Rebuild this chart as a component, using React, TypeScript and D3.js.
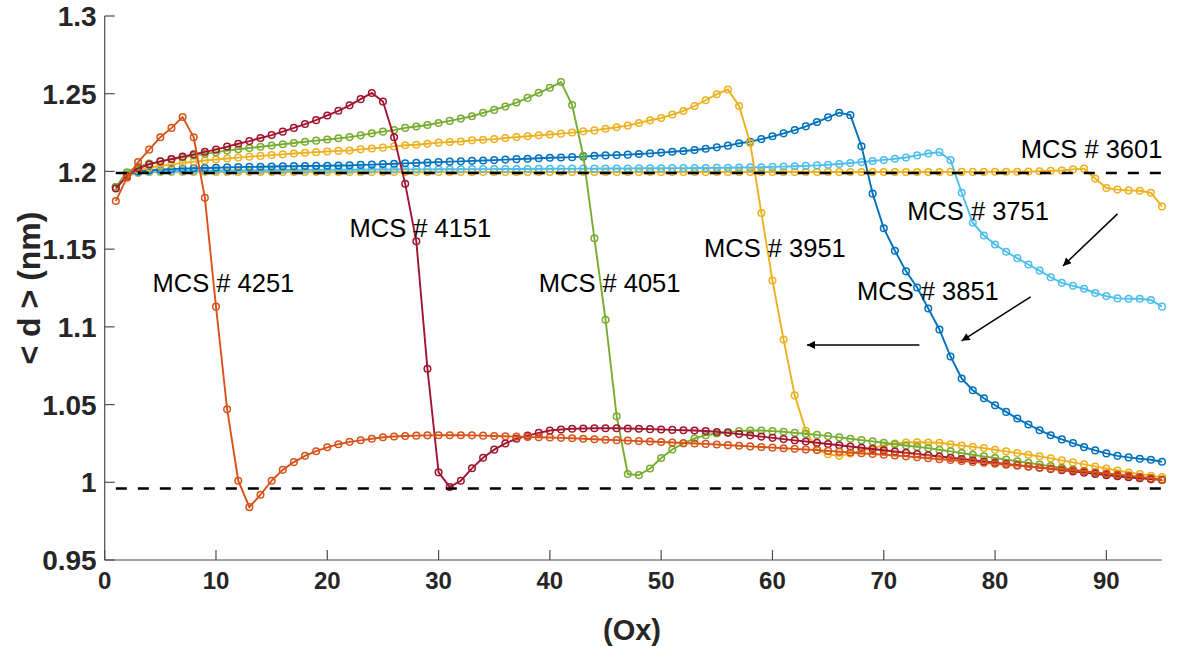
import React from "react";
import * as d3 from "d3";

const W = 1177;
const H = 647;

const xValues: number[] = d3.range(1, 96);

const mcs3601: number[] = [
  1.19, 1.197, 1.199, 1.1995, 1.1996, 1.1996, 1.1996, 1.1996, 1.1996, 1.1996,
  1.1996, 1.1996, 1.1996, 1.1996, 1.1996, 1.1996, 1.1996, 1.1996, 1.1996, 1.1996,
  1.1996, 1.1996, 1.1996, 1.1996, 1.1996, 1.1996, 1.1996, 1.1996, 1.1996, 1.1996,
  1.1996, 1.1996, 1.1996, 1.1996, 1.1996, 1.1996, 1.1996, 1.1996, 1.1996, 1.1996,
  1.1996, 1.1996, 1.1996, 1.1996, 1.1996, 1.1996, 1.1996, 1.1996, 1.1996, 1.1996,
  1.1996, 1.1996, 1.1996, 1.1996, 1.1996, 1.1996, 1.1996, 1.1996, 1.1996, 1.1996,
  1.1996, 1.1996, 1.1996, 1.1996, 1.1996, 1.1996, 1.1996, 1.1996, 1.1996, 1.1996,
  1.1996, 1.1996, 1.1996, 1.1996, 1.1996, 1.1997, 1.1997, 1.1997, 1.1997, 1.1998,
  1.1998, 1.1998, 1.1999, 1.2001, 1.2004, 1.2006, 1.2013, 1.2018, 1.1954, 1.1893,
  1.1883, 1.1878, 1.1876, 1.1863, 1.1775,
];

const mcs3751: number[] = [
  1.19, 1.198, 1.1995, 1.2, 1.2002, 1.2003, 1.2004, 1.2005, 1.2005, 1.2006,
  1.2006, 1.2007, 1.2007, 1.2008, 1.2008, 1.2009, 1.2009, 1.201, 1.201, 1.201,
  1.2011, 1.2011, 1.2011, 1.2012, 1.2012, 1.2012, 1.2013, 1.2013, 1.2013, 1.2014,
  1.2014, 1.2014, 1.2015, 1.2015, 1.2015, 1.2016, 1.2016, 1.2016, 1.2017, 1.2017,
  1.2017, 1.2018, 1.2018, 1.2018, 1.2019, 1.2019, 1.2019, 1.202, 1.202, 1.202,
  1.2021, 1.2021, 1.2022, 1.2022, 1.2023, 1.2024, 1.2025, 1.2026, 1.2027, 1.2029,
  1.2031, 1.2033, 1.2036, 1.2039, 1.2043, 1.2048, 1.2054, 1.206, 1.2067, 1.2074,
  1.2082, 1.209, 1.2103, 1.2115, 1.2124, 1.2073, 1.1863, 1.167, 1.1588, 1.153,
  1.1483, 1.1442, 1.1401, 1.1362, 1.1319, 1.1283, 1.1264, 1.1245, 1.1218, 1.1198,
  1.1183, 1.1181, 1.1181, 1.1173, 1.113,
];

const mcs3851: number[] = [
  1.19, 1.198, 1.2, 1.2008, 1.2012, 1.2015, 1.2018, 1.202, 1.2022, 1.2024,
  1.2026, 1.2028, 1.2029, 1.203, 1.2032, 1.2033, 1.2034, 1.2035, 1.2036, 1.2037,
  1.2038, 1.2039, 1.2042, 1.2044, 1.2047, 1.2049, 1.2052, 1.2055, 1.2057, 1.206,
  1.2063, 1.2065, 1.2068, 1.207, 1.2073, 1.2076, 1.2079, 1.2082, 1.2085, 1.2088,
  1.209, 1.2092, 1.2095, 1.2101, 1.2103, 1.2105, 1.2108, 1.2112, 1.2116, 1.2121,
  1.2127, 1.2131, 1.2138, 1.2146, 1.2155, 1.2166, 1.2181, 1.2191, 1.2208, 1.2226,
  1.2245, 1.2266, 1.229, 1.2318, 1.2348, 1.2378, 1.2362, 1.2162, 1.1857, 1.1634,
  1.149, 1.1357, 1.1253, 1.1118, 1.0983, 1.0809, 1.0668, 1.0592, 1.0541, 1.0496,
  1.0453, 1.041, 1.0372, 1.0335, 1.0303, 1.0276, 1.0252, 1.0226, 1.0205, 1.0186,
  1.017, 1.016, 1.0151, 1.0145, 1.0132,
];

const mcs3951: number[] = [
  1.19, 1.198, 1.201, 1.2025, 1.2035, 1.2045, 1.2055, 1.2063, 1.207, 1.2077,
  1.2083, 1.2089, 1.2095, 1.21, 1.2105, 1.211, 1.2115, 1.212, 1.2124, 1.2128,
  1.2132, 1.2135, 1.2142, 1.2148, 1.2153, 1.2161, 1.2168, 1.2172, 1.2178, 1.2185,
  1.2189, 1.2193, 1.22, 1.2204, 1.2208, 1.2215, 1.2221, 1.2226, 1.2232, 1.2238,
  1.2243, 1.225, 1.2258, 1.2264, 1.2275, 1.2284, 1.2295, 1.2312, 1.2329, 1.2344,
  1.2366, 1.2389, 1.2421, 1.2458, 1.2497, 1.2527, 1.2421, 1.2183, 1.1733, 1.1298,
  1.0918, 1.0559, 1.0331, 1.021, 1.018, 1.017, 1.0185, 1.0203, 1.022, 1.0237,
  1.025, 1.0256, 1.0258, 1.0256, 1.0254, 1.0245, 1.0237, 1.0228, 1.022, 1.0209,
  1.0199, 1.0188, 1.0177, 1.0167, 1.0154, 1.0141, 1.0128, 1.0115, 1.0102, 1.0089,
  1.0076, 1.0063, 1.0053, 1.0042, 1.0033,
];

const mcs4051: number[] = [
  1.19, 1.1995, 1.203, 1.205, 1.2065, 1.2078, 1.209, 1.2102, 1.2113, 1.2124,
  1.2134, 1.2143, 1.2151, 1.2159, 1.2167, 1.2175, 1.2183, 1.2191, 1.2198, 1.2205,
  1.2213, 1.2221, 1.2232, 1.2245, 1.2256, 1.2266, 1.228, 1.2289, 1.2299, 1.2312,
  1.2325, 1.234, 1.2355, 1.2377, 1.2396, 1.2418, 1.2443, 1.2473, 1.2506, 1.2538,
  1.2575, 1.2427, 1.2101, 1.157, 1.1046, 1.0425, 1.0053, 1.0046, 1.0089, 1.0156,
  1.0211, 1.025, 1.0282, 1.0303, 1.0314, 1.0323, 1.0329, 1.0333, 1.0333, 1.0329,
  1.0325, 1.0318, 1.0312, 1.0305, 1.0297, 1.0289, 1.028, 1.0271, 1.0263, 1.0254,
  1.0245, 1.0237, 1.0228, 1.022, 1.0209, 1.0199, 1.0188, 1.0177, 1.0167, 1.0156,
  1.0146, 1.0135, 1.0125, 1.0114, 1.0104, 1.0093, 1.0082, 1.0072, 1.0061, 1.0053,
  1.0044, 1.0035, 1.0029, 1.0024, 1.002,
];

const mcs4151: number[] = [
  1.189, 1.197, 1.202, 1.2045, 1.2065, 1.208, 1.2095, 1.211, 1.2126, 1.214,
  1.216, 1.2178, 1.2195, 1.2215, 1.2234, 1.2256, 1.228, 1.2305, 1.233, 1.236,
  1.239, 1.2425, 1.2465, 1.2505, 1.245, 1.222, 1.192, 1.155, 1.073, 1.0064,
  0.997, 1.001, 1.009, 1.0158, 1.021, 1.025, 1.028, 1.03, 1.0318, 1.0333,
  1.034, 1.0344, 1.0346, 1.0348, 1.0348, 1.0348, 1.0346, 1.0344, 1.0342, 1.034,
  1.0337, 1.0335, 1.0333, 1.033, 1.0324, 1.0318, 1.031, 1.0302, 1.0294, 1.0286,
  1.0278, 1.027, 1.0262, 1.0254, 1.0246, 1.0238, 1.023, 1.0222, 1.0214, 1.0206,
  1.0198, 1.019, 1.0182, 1.0174, 1.0166, 1.0158, 1.015, 1.0142, 1.0134, 1.0126,
  1.0118, 1.011, 1.0102, 1.0094, 1.0086, 1.0078, 1.007, 1.0062, 1.0054, 1.0046,
  1.0039, 1.0032, 1.0026, 1.002, 1.0015,
];

const mcs4251: number[] = [
  1.181, 1.196, 1.206, 1.214, 1.222, 1.228, 1.235, 1.222, 1.183, 1.113,
  1.047, 1.001, 0.984, 0.992, 1.001, 1.008, 1.013, 1.017, 1.02, 1.0225,
  1.0245, 1.026, 1.027, 1.028, 1.029, 1.0295, 1.0298, 1.03, 1.0302, 1.0303,
  1.0303, 1.0303, 1.0302, 1.03, 1.0298, 1.0296, 1.0294, 1.0292, 1.029, 1.0288,
  1.0286, 1.0283, 1.028, 1.0277, 1.0274, 1.0271, 1.0268, 1.0265, 1.0262, 1.0259,
  1.0256, 1.0253, 1.025, 1.0247, 1.0243, 1.0239, 1.0235, 1.0231, 1.0227, 1.0223,
  1.0219, 1.0215, 1.0211, 1.0207, 1.0202, 1.0197, 1.0192, 1.0187, 1.0182, 1.0177,
  1.0172, 1.0167, 1.0161, 1.0155, 1.0149, 1.0143, 1.0137, 1.0131, 1.0125, 1.0119,
  1.0113, 1.0107, 1.0101, 1.0095, 1.0089, 1.0083, 1.0077, 1.0071, 1.0064, 1.0057,
  1.005, 1.0043, 1.0036, 1.0027, 1.0015,
];

const seriesNames: string[] = ["MCS # 3601", "MCS # 3751", "MCS # 3851", "MCS # 3951", "MCS # 4051", "MCS # 4151", "MCS # 4251"];
const seriesValues: number[][] = [mcs3601, mcs3751, mcs3851, mcs3951, mcs4051, mcs4151, mcs4251];
const seriesColors: string[] = ["#EDB120", "#4DBEEE", "#0072BD", "#EDB120", "#77AC30", "#A2142F", "#D95319"];

const refLevels: number[] = [1.199, 0.996];
const refRange: number[] = [1, 95];

const xTicks: number[] = [0, 10, 20, 30, 40, 50, 60, 70, 80, 90];
const yTicks: number[] = [0.95, 1, 1.05, 1.1, 1.15, 1.2, 1.25, 1.3];

// label anchor positions in data units (left x, baseline y)
const labelX: number[] = [82.3, 72.1, 67.6, 53.85, 39.0, 22.0, 4.3];
const labelY: number[] = [1.2087, 1.1687, 1.1173, 1.1449, 1.1224, 1.158, 1.1224];

// arrows in data units: [x1, y1, x2, y2]
const arrows: number[][] = [
  [91.0, 1.1727, 86.1, 1.1392],
  [83.2, 1.1193, 77.0, 1.091],
  [73.2, 1.0884, 63.1, 1.0884],
];

const FONT = "'Liberation Sans', Arial, Helvetica, sans-serif";

export default function App() {
  const x = d3.scaleLinear().domain([0, 95]).range([104.7, 1162]);
  const y = d3.scaleLinear().domain([0.95, 1.3]).range([560, 16]);
  const line = d3
    .line<[number, number]>()
    .x((d) => x(d[0]))
    .y((d) => y(d[1]));

  const axisColor = "#4d4d4d";
  const x0 = x(0);
  const y0 = y(0.95);

  return (
    <svg
      width={W}
      height={H}
      style={{ position: "absolute", left: 0, top: 0, background: "#fff" }}
      fontFamily={FONT}
    >
      <defs>
        <marker id="ah" viewBox="0 0 10 10" refX="10" refY="5" markerWidth="12" markerHeight="8" markerUnits="userSpaceOnUse" orient="auto">
          <path d="M0,0 L10,5 L0,10 z" fill="#000" />
        </marker>
      </defs>

      {seriesValues.map((vals, si) => {
        const pts: [number, number][] = vals.map((v, i) => [xValues[i], v]);
        return (
          <g key={si}>
            <path d={line(pts) || ""} fill="none" stroke={seriesColors[si]} strokeWidth={1.9} />
            {pts.map((p, i) => (
              <circle key={i} cx={x(p[0])} cy={y(p[1])} r={3.3} fill="none" stroke={seriesColors[si]} strokeWidth={1.5} />
            ))}
          </g>
        );
      })}

      {refLevels.map((lv, i) => (
        <line
          key={i}
          x1={x(refRange[0])}
          x2={x(refRange[1])}
          y1={y(lv)}
          y2={y(lv)}
          stroke="#000"
          strokeWidth={2.6}
          strokeDasharray="11,11"
        />
      ))}

      {/* axes */}
      <line x1={x0} x2={x0} y1={y(1.3)} y2={y0} stroke={axisColor} strokeWidth={1.2} />
      <line x1={x0} x2={x(95)} y1={y0} y2={y0} stroke={axisColor} strokeWidth={1.2} />
      {yTicks.map((t) => (
        <g key={"y" + t}>
          <line x1={x0} x2={x0 + 10} y1={y(t)} y2={y(t)} stroke={axisColor} strokeWidth={1.2} />
          <text x={x0 - 8} y={y(t)} dy="0.36em" textAnchor="end" fontSize={28} fontWeight="bold" fill="#262626">
            {d3.format("")(t)}
          </text>
        </g>
      ))}
      {xTicks.map((t) => (
        <g key={"x" + t}>
          <line x1={x(t)} x2={x(t)} y1={y0} y2={y0 - 10} stroke={axisColor} strokeWidth={1.2} />
          <text x={x(t)} y={y0 + 29} textAnchor="middle" fontSize={24} fontWeight="bold" fill="#262626">
            {t}
          </text>
        </g>
      ))}

      <text x={632} y={640} textAnchor="middle" fontSize={29} fontWeight="bold" fill="#262626">
        (Ox)
      </text>
      <text
        transform={`translate(40, ${y(1.125)}) rotate(-90)`}
        textAnchor="middle"
        fontSize={32}
        fontWeight="bold"
        fill="#262626"
      >
        {"< d > (nm)"}
      </text>

      {seriesNames.map((n, i) => (
        <text key={n} x={x(labelX[i])} y={y(labelY[i])} fontSize={25.5} fill="#000">
          {n}
        </text>
      ))}

      {arrows.map((a, i) => (
        <line key={i} x1={x(a[0])} y1={y(a[1])} x2={x(a[2])} y2={y(a[3])} stroke="#000" strokeWidth={1.5} markerEnd="url(#ah)" />
      ))}
    </svg>
  );
}
